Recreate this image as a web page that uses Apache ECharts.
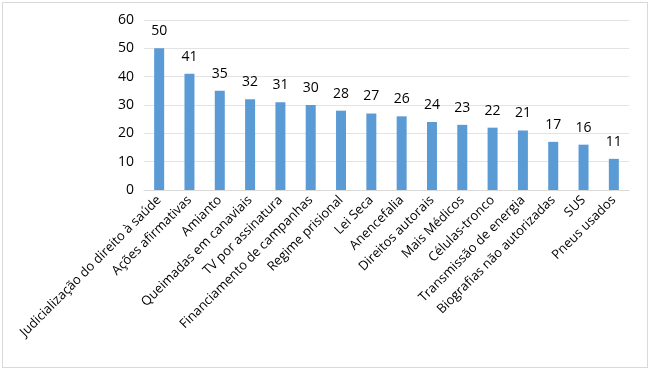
<!DOCTYPE html>
<html>
<head>
<meta charset="utf-8">
<script src="https://cdn.jsdelivr.net/npm/echarts@6/dist/echarts.min.js"></script>
<style>
  html, body { margin: 0; padding: 0; background: #fff; }
  #chart { position: absolute; left: 2px; top: 2px; width: 644px; height: 364px; border: 1px solid #d9d9d9; }
</style>
</head>
<body>
<div id="chart"></div>
<script>
const categories = [
  "Judicialização do direito à saúde", "Ações afirmativas", "Amianto", "Queimadas em canaviais",
  "TV por assinatura", "Financiamento de campanhas", "Regime prisional", "Lei Seca",
  "Anencefalia", "Direitos autorais", "Mais Médicos", "Células-tronco",
  "Transmissão de energia", "Biografias não autorizadas", "SUS", "Pneus usados"
];
const values = [50, 41, 35, 32, 31, 30, 28, 27, 26, 24, 23, 22, 21, 17, 16, 11];
const yTicks = [0, 10, 20, 30, 40, 50, 60];

const chart = echarts.init(document.getElementById("chart"));
const font = "'Open Sans', 'Noto Sans', sans-serif";
chart.setOption({
  animation: false,
  grid: { left: 141, right: 18, top: 17, bottom: 177 },
  xAxis: {
    type: "category",
    data: categories,
    axisLine: { lineStyle: { color: "#d9d9d9" } },
    axisTick: { show: false },
    axisLabel: { rotate: 45, interval: 0, color: "#000", fontSize: 13, fontFamily: font, margin: 8 }
  },
  yAxis: {
    type: "value",
    min: yTicks[0],
    max: yTicks[yTicks.length - 1],
    interval: 10,
    axisLine: { show: false },
    axisTick: { show: false },
    splitLine: { lineStyle: { color: "#e3e3e3" } },
    axisLabel: { color: "#000", fontSize: 14, fontFamily: font, margin: 10 }
  },
  series: [{
    type: "bar",
    data: values,
    barWidth: 10,
    itemStyle: { color: "#5b9bd5" },
    label: { show: true, position: "top", distance: 10, color: "#000", fontSize: 14, fontFamily: font }
  }]
});
</script>
</body>
</html>
